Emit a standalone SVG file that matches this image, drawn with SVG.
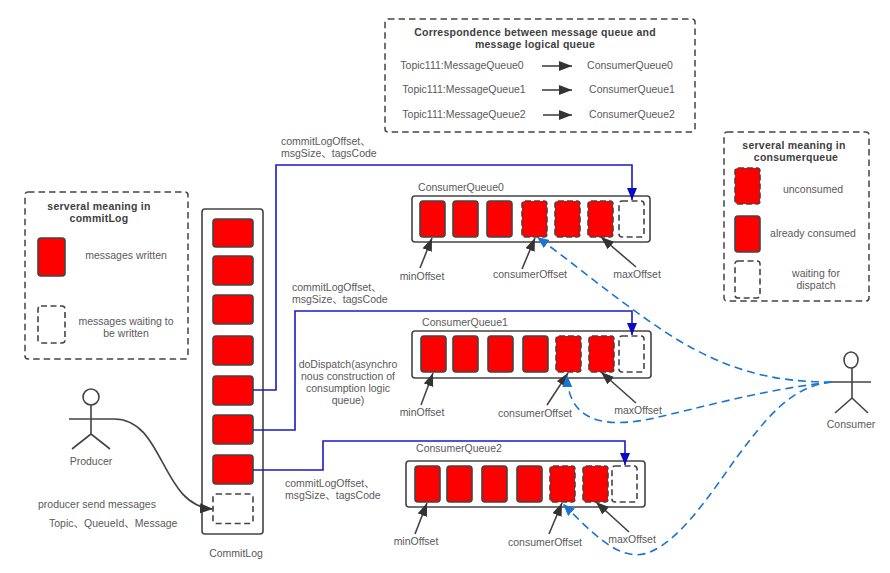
<svg xmlns="http://www.w3.org/2000/svg" width="890" height="573" viewBox="0 0 890 573">
<style>
text{font-family:"Liberation Sans","Noto Sans CJK SC",sans-serif;font-size:10.5px;fill:#5a5a5a;text-anchor:middle}
.b{font-weight:700;fill:#404040;letter-spacing:.25px}
.s{text-anchor:start}
.r{fill:#f00;stroke:#444;stroke-width:1.6}
.u{fill:#f00;stroke:#444;stroke-width:1.6;stroke-dasharray:6 3}
.w{fill:#fff;stroke:#444;stroke-width:1.6;stroke-dasharray:6 3.5}
.o{fill:#fff;stroke:#444;stroke-width:1.6}
.d{fill:#fff;stroke:#444;stroke-width:1.5;stroke-dasharray:6.5 4}
.a{fill:none;stroke:#444;stroke-width:1.6}
.bl{fill:none;stroke:#1a1ac8;stroke-width:1.6}
.c{fill:none;stroke:#1a75d2;stroke-width:1.6;stroke-dasharray:8 5}
</style>
<defs>
<marker id="ma" markerUnits="userSpaceOnUse" markerWidth="14" markerHeight="12" refX="13" refY="5" orient="auto"><path d="M0 0L13 5L0 10Z" fill="#333"/></marker>
<marker id="mb" markerUnits="userSpaceOnUse" markerWidth="14" markerHeight="12" refX="12" refY="5" orient="auto"><path d="M0 0L12 5L0 10Z" fill="#0b0bc4"/></marker>
<marker id="mc" markerUnits="userSpaceOnUse" markerWidth="14" markerHeight="12" refX="12" refY="5" orient="auto"><path d="M0 0L12 5L0 10Z" fill="#1a75d2"/></marker>
</defs>
<rect width="890" height="573" fill="#fff"/>

<g id="legend-commitlog">
<rect class="d" x="25" y="192" width="163" height="167" rx="3"/>
<text class="b" x="99" y="210">serveral meaning in</text>
<text class="b" x="99" y="222">commitLog</text>
<rect class="r" x="38" y="238" width="27" height="38" rx="3"/>
<text x="126" y="259">messages written</text>
<rect class="w" x="38" y="306" width="27" height="37" rx="3"/>
<text x="126" y="325">messages waiting to</text>
<text x="126" y="337">be written</text>
</g>

<g id="legend-mapping">
<rect class="d" x="385" y="19" width="310" height="113" rx="3"/>
<text class="b" x="535" y="36">Correspondence between message queue and</text>
<text class="b" x="535" y="48">message logical queue</text>
<text x="462" y="69">Topic111:MessageQueue0</text>
<text x="630" y="69">ConsumerQueue0</text>
<text x="464" y="93">Topic111:MessageQueue1</text>
<text x="632" y="93">ConsumerQueue1</text>
<text x="464" y="118">Topic111:MessageQueue2</text>
<text x="632" y="118">ConsumerQueue2</text>
</g>

<g id="legend-consumerqueue">
<rect class="d" x="724" y="132" width="145" height="169" rx="3"/>
<text class="b" x="794" y="149">serveral meaning in</text>
<text class="b" x="796" y="161">consumerqueue</text>
<rect class="u" x="735" y="168" width="25" height="36" rx="3"/>
<text x="813" y="193">unconsumed</text>
<rect class="r" x="735" y="216" width="25" height="36" rx="3"/>
<text x="813" y="237">already consumed</text>
<rect class="w" x="735" y="261" width="25" height="37" rx="3"/>
<text x="816" y="277">waiting for</text>
<text x="816" y="289">dispatch</text>
</g>

<g id="commitlog">
<rect class="o" x="202" y="209" width="61" height="325" rx="3"/>
<rect class="r" x="213" y="219" width="40" height="28" rx="3"/>
<rect class="r" x="213" y="256" width="40" height="29" rx="3"/>
<rect class="r" x="213" y="295" width="40" height="29" rx="3"/>
<rect class="r" x="213" y="336" width="40" height="29" rx="3"/>
<rect class="r" x="213" y="376" width="40" height="29" rx="3"/>
<rect class="r" x="213" y="415" width="40" height="29" rx="3"/>
<rect class="r" x="213" y="455" width="40" height="29" rx="3"/>
<rect class="w" x="213" y="494" width="40" height="29.500" rx="3"/>
<text x="236" y="557">CommitLog</text>
</g>

<g id="queue0">
<rect class="o" x="412" y="196" width="238" height="46" rx="3"/>
<rect class="r" x="420" y="201" width="25" height="36" rx="3"/>
<rect class="r" x="453" y="201" width="25" height="36" rx="3"/>
<rect class="r" x="487" y="201" width="25" height="36" rx="3"/>
<rect class="u" x="522" y="201" width="25" height="36" rx="3"/>
<rect class="u" x="555" y="201" width="25" height="36" rx="3"/>
<rect class="u" x="588" y="201" width="25" height="36" rx="3"/>
<rect class="w" x="619" y="201" width="25" height="36" rx="3"/>
<text x="461" y="191">ConsumerQueue0</text>
<text x="422" y="280">minOffset</text>
<text x="530" y="278">consumerOffset</text>
<text x="637" y="278">maxOffset</text>
</g>

<g id="queue1">
<rect class="o" x="412" y="331" width="239" height="47" rx="3"/>
<rect class="r" x="421" y="336" width="25" height="36" rx="3"/>
<rect class="r" x="453" y="336" width="25" height="36" rx="3"/>
<rect class="r" x="488" y="336" width="25" height="36" rx="3"/>
<rect class="r" x="523" y="336" width="25" height="36" rx="3"/>
<rect class="u" x="556" y="336" width="25" height="36" rx="3"/>
<rect class="u" x="589" y="336" width="25" height="36" rx="3"/>
<rect class="w" x="619" y="336" width="25" height="36" rx="3"/>
<text x="465" y="326">ConsumerQueue1</text>
<text x="422" y="416">minOffset</text>
<text x="535" y="417">consumerOffset</text>
<text x="638" y="414">maxOffset</text>
</g>

<g id="queue2">
<rect class="o" x="406" y="461" width="239" height="46" rx="3"/>
<rect class="r" x="415" y="466" width="25" height="36" rx="3"/>
<rect class="r" x="447" y="466" width="25" height="36" rx="3"/>
<rect class="r" x="482" y="466" width="25" height="36" rx="3"/>
<rect class="r" x="517" y="466" width="25" height="36" rx="3"/>
<rect class="u" x="550" y="466" width="25" height="36" rx="3"/>
<rect class="u" x="583" y="466" width="25" height="36" rx="3"/>
<rect class="w" x="612" y="466" width="25" height="36" rx="3"/>
<text x="459" y="452">ConsumerQueue2</text>
<text x="416" y="545">minOffset</text>
<text x="545" y="546">consumerOffset</text>
<text x="632" y="543">maxOffset</text>
</g>

<g id="producer">
<circle class="a" cx="91" cy="397" r="8"/>
<path class="a" d="M91 405V434M69 419H114M91 434L72 449M91 434L110 449"/>
<text x="91" y="465">Producer</text>
</g>

<g id="consumer">
<ellipse class="a" cx="851" cy="360" rx="7" ry="8"/>
<path class="a" d="M852 368V398M832 382H871M852 398L835 413M852 398L868 413"/>
<text x="851" y="428">Consumer</text>
</g>

<g id="connectors">
<path class="bl" marker-end="url(#mb)" d="M253 390H276V165H632V200"/>
<path class="bl" marker-end="url(#mb)" d="M253 430H295V311H632V335"/>
<path class="bl" marker-end="url(#mb)" d="M253 470H323V441H625V465"/>
<path class="a" marker-end="url(#ma)" d="M114 419C165 419 160 506 213 509"/>
<path class="a" marker-end="url(#ma)" d="M542 66H572"/>
<path class="a" marker-end="url(#ma)" d="M542 90H572"/>
<path class="a" marker-end="url(#ma)" d="M543 115H572"/>
<path class="a" marker-end="url(#ma)" d="M420 268L432 238"/>
<path class="a" marker-end="url(#ma)" d="M522 269L535 238"/>
<path class="a" marker-end="url(#ma)" d="M636 267L601 237"/>
<path class="a" marker-end="url(#ma)" d="M421 405L433 373"/>
<path class="a" marker-end="url(#ma)" d="M547 405L568 373"/>
<path class="a" marker-end="url(#ma)" d="M636 403L601 372"/>
<path class="a" marker-end="url(#ma)" d="M415 534L427 503"/>
<path class="a" marker-end="url(#ma)" d="M549 534L562 503"/>
<path class="a" marker-end="url(#ma)" d="M629 532L596 502"/>
<path class="c" marker-end="url(#mc)" d="M832 382C775 382 730 372 673 337C620 303 580 268 537 237"/>
<path class="c" marker-end="url(#mc)" d="M832 382C760 390 700 408 650 419C610 427 568 425 567 375"/>
<path class="c" marker-end="url(#mc)" d="M832 382C790 386 765 420 737 457C710 495 680 540 650 552C620 565 590 530 563 504"/>
</g>

<g id="labels">
<text class="s" x="281" y="145">commitLogOffset、</text>
<text class="s" x="281" y="157">msgSize、tagsCode</text>
<text class="s" x="292" y="291">commitLogOffset、</text>
<text class="s" x="292" y="303">msgSize、tagsCode</text>
<text x="348" y="368">doDispatch(asynchro</text>
<text x="348" y="380">nous construction of</text>
<text x="348" y="392">consumption logic</text>
<text x="348" y="404">queue)</text>
<text class="s" x="285" y="487">commitLogOffset、</text>
<text class="s" x="285" y="499">msgSize、tagsCode</text>
<text class="s" x="38" y="508">producer send messages</text>
<text class="s" x="49" y="527">Topic、QueueId、Message</text>
</g>
</svg>
